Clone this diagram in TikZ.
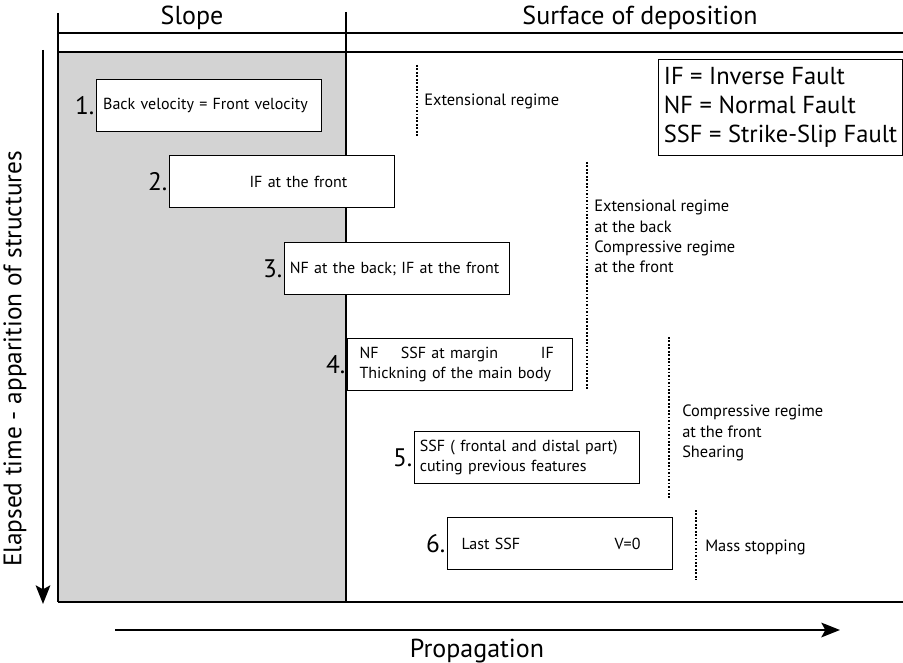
\documentclass[tikz,border=0pt]{standalone}
\usepackage{fontspec}
\setmainfont{PT Sans}
\usetikzlibrary{arrows.meta}
\definecolor{slopegrey}{RGB}{211,211,211}

\begin{document}
\begin{tikzpicture}[x=0.75pt,y=-0.75pt,
    stagebox/.style={draw,fill=white,line width=0.8pt,anchor=north west,
      minimum width=168.75pt,minimum height=39pt,inner xsep=4pt,
      text width=160.75pt,align=left,font=\fontsize{12}{15}\selectfont},
    stagenum/.style={font=\fontsize{19}{19}\selectfont,inner sep=1pt},
    regime/.style={line width=1.8pt,dash pattern=on 1.3pt off 1.3pt},
    regimetext/.style={anchor=west,align=left,inner sep=0pt,
      font=\fontsize{12.3}{15.2}\selectfont},
    heading/.style={font=\fontsize{19.5}{19.5}\selectfont},
    axis/.style={line width=1.5pt,-{Stealth[length=14pt,width=11pt,inset=3pt]}}]
    \useasboundingbox (0,0) rectangle (903,663);

    % slope and surface of deposition
    \fill[slopegrey] (58,52) rectangle (346,602);
    \draw[line width=0.8pt] (58,52) -- (58,602);
    \draw[line width=1.1pt] (58,602) -- (903,602);
    \draw[line width=1.1pt] (58,52) -- (903,52);
    \draw[line width=1.8pt] (58,33) -- (903,33);
    \draw[line width=1.2pt] (58,13) -- (58,52);
    \draw[line width=1.5pt] (346,12) -- (346,602);
    \node[heading] (slope) at (192,18) {Slope};
    \node[heading] (surface) at (640,18) {Surface of deposition};

    % legend
    \node[draw,line width=0.8pt,anchor=north west,minimum height=72pt,
      inner xsep=4pt,align=left,font=\fontsize{18.4}{21.75}\selectfont]
      (legend) at (658,59) {IF = Inverse Fault\\NF = Normal Fault\\SSF = Strike-Slip Fault};

    % stages
    \node[stagebox,label={[stagenum]left:1.}] (s1) at (96,79)
      {\hspace*{1pt}Back velocity = Front velocity};
    \node[stagebox,label={[stagenum]left:2.}] (s2) at (169,155)
      {\hspace*{56pt}IF at the front};
    \node[stagebox,label={[stagenum]left:3.}] (s3) at (284,242)
      {NF at the back; IF at the front};
    \node[stagebox,label={[stagenum]left:4.}] (s4) at (347,338)
      {\hspace*{5pt}\makebox[31pt][l]{NF}SSF at margin\hfill IF\hspace*{10pt}\null\\
       \hspace*{5pt}Thickning of the main body};
    \node[stagebox,label={[stagenum]left:5.}] (s5) at (414,431)
      {SSF ( frontal and distal part)\\cuting previous features};
    \node[stagebox,label={[stagenum]left:6.}] (s6) at (447,517)
      {\hspace*{6.5pt}Last SSF\hfill V=0\hspace*{20pt}\null};

    % regimes
    \draw[regime] (417,65) -- (417,137);
    \node[regimetext] (reg1) at (424,101) {Extensional regime};
    \draw[regime] (587,162) -- (587,390);
    \node[regimetext] (reg2) at (594,236.5)
      {Extensional regime\\at the back\\Compressive regime\\at the front};
    \draw[regime] (669,337) -- (669,498);
    \node[regimetext] (reg3) at (682,433)
      {Compressive regime\\at the front\\Shearing};
    \draw[regime] (696,510) -- (696,580);
    \node[regimetext] (reg4) at (705,547) {Mass stopping};

    % axes
    \coordinate (tstart) at (43,50);
    \coordinate (tend) at (43,604);
    \draw[axis] (tstart) -- (tend);
    \node[font=\fontsize{19}{19}\selectfont,rotate=90] (elapsed) at (15,359)
      {Elapsed time - apparition of structures};
    \coordinate (pstart) at (115,630);
    \coordinate (pend) at (840,630);
    \draw[axis] (pstart) -- (pend);
    \node[heading] (propagation) at (477,651) {Propagation};
\end{tikzpicture}
\end{document}
